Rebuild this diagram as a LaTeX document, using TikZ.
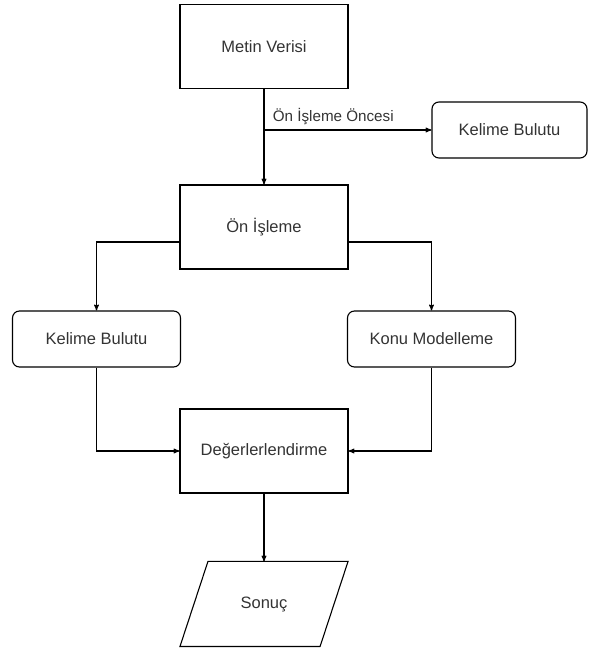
\documentclass[tikz,border=0pt]{standalone}
\usepackage{fontspec}
\setmainfont{Liberation Sans}
\usetikzlibrary{arrows}

\begin{document}
\begin{tikzpicture}[x=1pt,y=1pt,->,>=stealth',line width=1.1pt,main node/.style={rectangle,draw,minimum width=168pt,minimum height=84pt,text=black!80,font=\fontsize{16.5}{19}\selectfont},round node/.style={main node,rounded corners=7pt,minimum height=56pt}]
  \useasboundingbox (0,0) rectangle (592,651);
  \node[main node] (metin) at (264,604.5) {Metin Verisi};
  \node[round node,minimum width=155pt] (bulut1) at (509.5,521) {Kelime Bulutu};
  \node[main node] (onisleme) at (264,424) {Ön İşleme};
  \node[round node] (bulut2) at (96.5,312) {Kelime Bulutu};
  \node[round node] (konu) at (431.5,312) {Konu Modelleme};
  \node[main node] (deger) at (264,200) {Değerlerlendirme};
  \node[main node,draw=none,minimum width=139pt] (sonuc) at (264,47) {Sonuç};
  \coordinate (ayrim) at (264,521);

  \draw[-] ([xshift=-14pt]sonuc.south west) -- ([xshift=14pt]sonuc.north west) -- ([xshift=14pt]sonuc.north east) -- ([xshift=-14pt]sonuc.south east) -- cycle;

\path
  (metin) edge (onisleme)
  (ayrim) edge node[anchor=south west,pos=0,xshift=5pt,yshift=1pt,text=black!80,font=\fontsize{15.2}{18}\selectfont] {Ön İşleme Öncesi} (bulut1)
  (deger) edge (sonuc.north)
;
  \draw ([yshift=-15pt]onisleme.west) -| (bulut2.north);
  \draw ([yshift=-15pt]onisleme.east) -| (konu.north);
  \draw (bulut2.south) |- (deger.west);
  \draw (konu.south) |- (deger.east);
\end{tikzpicture}
\end{document}
